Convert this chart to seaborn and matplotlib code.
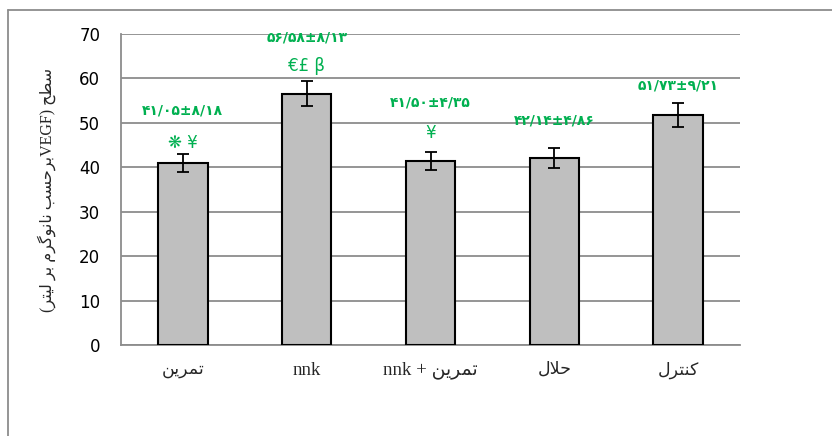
import matplotlib
matplotlib.use("Agg")
import matplotlib.pyplot as plt
import seaborn as sns
import pandas as pd
from matplotlib.lines import Line2D

# Persian words in visual (left-to-right) order with contextual presentation forms
TAMRIN = "\uFEE6\uFEF3\uFEAE\uFEE4\uFE97"      # تمرین
HALAL = "\uFEDD\uFEFC\uFEA3"                   # حلال
KONTROL = "\uFEDD\uFEAE\uFE98\uFEE8\uFEDB"     # کنترل
SATH = "\uFEA2\uFEC4\uFEB3"                    # سطح
BARHASAB = "\uFE90\uFEB4\uFEA3\uFEAE\uFE91"    # برحسب
NANOGRAM = "\uFEE1\uFEAE\uFB94\uFEEE\uFEE7\uFE8E\uFEE7"  # نانوگرم
BAR = "\uFEAE\uFE91"                           # بر
LITR = "\uFEAE\uFE98\uFEF4\uFEDF"              # لیتر

categories = [TAMRIN, "nnk", "nnk + " + TAMRIN, HALAL, KONTROL]
means = [41.05, 56.58, 41.50, 42.14, 51.73]
errors = [2.0, 2.85, 2.05, 2.2, 2.65]
value_labels = ["۴۱/۰۵±۸/۱۸", "۵۶/۵۸±۸/۱۳", "۴۱/۵۰±۴/۳۵", "۴۲/۱۴±۴/۸۶", "۵۱/۷۳±۹/۲۱"]
symbols = ["❋ ¥", "€£ β", "¥", "", ""]
yticks = [0, 10, 20, 30, 40, 50, 60, 70]
ylabel = "(" + LITR + " " + BAR + " " + NANOGRAM + " " + BARHASAB + "VEGF) " + SATH

# annotation placement (data units)
label_y = [52.7, 69.1, 54.5, 50.6, 58.5]
symbol_y = [45.5, 62.8, 47.7, None, None]

df = pd.DataFrame({"group": categories, "value": means})

sns.set_style("white")
plt.rcParams["font.family"] = ["DejaVu Sans"]

fig = plt.figure(figsize=(8.32, 4.36), dpi=100)
ax = fig.add_axes([121 / 832, 1 - 345 / 436, (740 - 121) / 832, (345 - 34) / 436])

sns.barplot(data=df, x="group", y="value", order=categories, color="#BFBFBF",
            saturation=1, width=0.4, edgecolor="black", linewidth=1.5,
            errorbar=None, ax=ax, zorder=3)
ax.errorbar(range(len(means)), means, yerr=errors, fmt="none", ecolor="black",
            elinewidth=1.3, capsize=4, capthick=1.3, zorder=4)

ax.set_ylim(0, 70)
ax.set_xlim(-0.5, len(categories) - 0.5)
ax.set_yticks(yticks)
ax.yaxis.grid(True, color="#8C8C8C", linewidth=1.3, zorder=0)
ax.set_axisbelow(True)
for s in ["top", "right"]:
    ax.spines[s].set_visible(False)
for s in ["left", "bottom"]:
    ax.spines[s].set_color("#8C8C8C")
    ax.spines[s].set_linewidth(1.3)
ax.tick_params(axis="y", length=0, pad=15, labelsize=12, labelcolor="black")
ax.tick_params(axis="x", length=0, pad=12)
ax.set_xlabel("")
ax.set_ylabel("")
for t in ax.get_xticklabels():
    t.set_family(["Liberation Serif", "DejaVu Sans"])
    t.set_fontsize(12.5)
    if "nnk" in t.get_text():
        t.set_fontsize(13.5)

green = "#00B050"
for i in range(len(means)):
    ax.text(i, label_y[i], value_labels[i], ha="center", va="center",
            color=green, fontsize=10, fontweight="bold", zorder=5)
    if symbol_y[i] is not None and symbols[i]:
        ax.text(i, symbol_y[i], symbols[i], ha="center", va="center",
                color=green, fontsize=12, zorder=5)

fig.text(0.056, 1 - 190 / 436, ylabel, rotation=90, ha="center", va="center",
         fontsize=11.5, family=["Liberation Serif", "DejaVu Sans"])

# outer chart border
fig.add_artist(Line2D([8 / 832, 1.0], [1 - 10 / 436, 1 - 10 / 436],
                      transform=fig.transFigure, color="#8C8C8C", linewidth=1.3))
fig.add_artist(Line2D([8 / 832, 8 / 832], [0.0, 1 - 10 / 436],
                      transform=fig.transFigure, color="#8C8C8C", linewidth=1.3))

fig.savefig("out.png", dpi=100)
